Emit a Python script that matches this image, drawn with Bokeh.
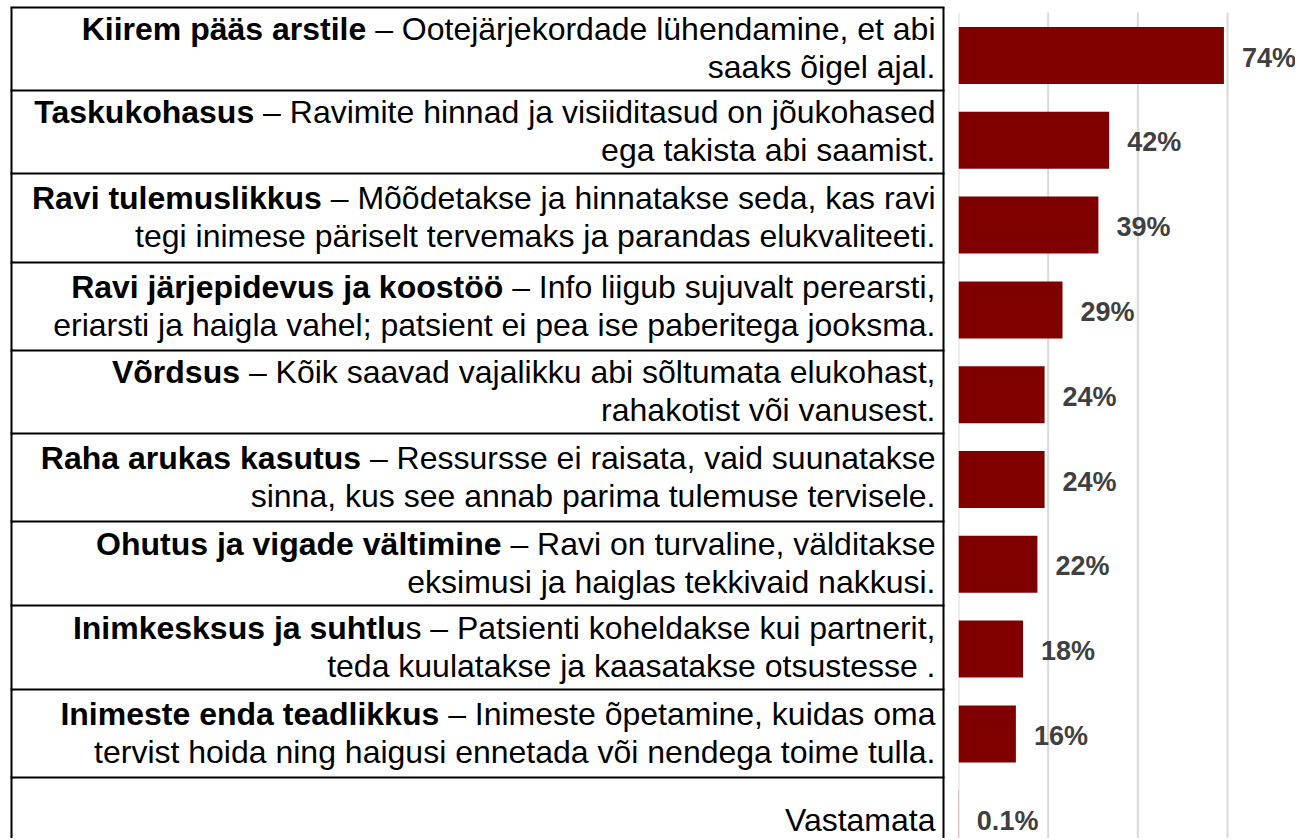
from bokeh.plotting import figure
from bokeh.layouts import row
from bokeh.models import Range1d, ColumnDataSource
from bokeh.embed import file_html
from bokeh.resources import INLINE
from bokeh.core.properties import value

# ---------------- data ----------------
titles = [
    "Kiirem pääs arstile",
    "Taskukohasus",
    "Ravi tulemuslikkus",
    "Ravi järjepidevus ja koostöö",
    "Võrdsus",
    "Raha arukas kasutus",
    "Ohutus ja vigade vältimine",
    "Inimkesksus ja suhtlu",
    "Inimeste enda teadlikkus",
    "",
]
first_lines = [
    " – Ootejärjekordade lühendamine, et abi",
    " – Ravimite hinnad ja visiiditasud on jõukohased",
    " – Mõõdetakse ja hinnatakse seda, kas ravi",
    " – Info liigub sujuvalt perearsti,",
    " – Kõik saavad vajalikku abi sõltumata elukohast,",
    " – Ressursse ei raisata, vaid suunatakse",
    " – Ravi on turvaline, välditakse",
    "s – Patsienti koheldakse kui partnerit,",
    " – Inimeste õpetamine, kuidas oma",
    "Vastamata",
]
second_lines = [
    "saaks õigel ajal.",
    "ega takista abi saamist.",
    "tegi inimese päriselt tervemaks ja parandas elukvaliteeti.",
    "eriarsti ja haigla vahel; patsient ei pea ise paberitega jooksma.",
    "rahakotist või vanusest.",
    "sinna, kus see annab parima tulemuse tervisele.",
    "eksimusi ja haiglas tekkivaid nakkusi.",
    "teda kuulatakse ja kaasatakse otsustesse .",
    "tervist hoida ning haigusi ennetada või nendega toime tulla.",
    "",
]
values = [74, 42, 39, 29, 24, 24, 22, 18, 16, 0.1]
labels = ["74%", "42%", "39%", "29%", "24%", "24%", "22%", "18%", "16%", "0.1%"]
grid_ticks = [0, 25, 50, 75]

# ---------------- layout constants ----------------
FONT = "Liberation Sans"
FS = 32
H = 838
W_L = 954
W_R = 341
row_tops = [7, 90, 173, 262, 350, 433, 521, 605, 689, 777, 863]
X_RIGHT = 935
PX_PER_PCT = 3.587
CAT_STEP = 84.8
FIRST_CENTER = 55
GRID_TOP = 12

# text width measurement
def _make_tw():
    try:
        from PIL import ImageFont
        for path in ["LiberationSans-Regular.ttf",
                     "/usr/share/fonts/truetype/liberation/LiberationSans-Regular.ttf",
                     "/usr/share/fonts/liberation-sans/LiberationSans-Regular.ttf",
                     "/usr/share/fonts/liberation/LiberationSans-Regular.ttf"]:
            try:
                f = ImageFont.truetype(path, FS)
                return lambda s: f.getlength(s)
            except Exception:
                continue
    except Exception:
        pass
    return lambda s: 0.5 * FS * len(s)

tw = _make_tw()

# ---------------- left: table ----------------
left = figure(width=W_L, height=H, x_range=Range1d(0, W_L), y_range=Range1d(H, 0),
              output_backend="svg", toolbar_location=None,
              min_border_left=0, min_border_right=0, min_border_top=0, min_border_bottom=0)
left.axis.visible = False
left.grid.visible = False
left.outline_line_color = None
left.background_fill_color = "white"
left.border_fill_color = "white"

hy = row_tops[:-1]
left.segment(x0=[10] * len(hy), x1=[944] * len(hy), y0=hy, y1=hy, line_color="black", line_width=2)
left.segment(x0=[11, 943], x1=[11, 943], y0=[7, 7], y1=[H, H], line_color="black", line_width=2)

n_rows = len(titles)
bx, by, bt = [], [], []
nx, ny, nt = [], [], []
for i in range(n_rows):
    mid = (row_tops[i] + row_tops[i + 1]) / 2
    if second_lines[i]:
        y1, y2 = mid - 20, mid + 18
    else:
        y1, y2 = mid - 1, None
    t = first_lines[i]
    gap = tw(" ") if t.startswith(" ") else 0
    t = t.lstrip()
    nx.append(X_RIGHT); ny.append(y1); nt.append(t)
    if titles[i]:
        bx.append(X_RIGHT - tw(t) - gap); by.append(y1); bt.append(titles[i])
    if y2 is not None:
        nx.append(X_RIGHT); ny.append(y2); nt.append(second_lines[i])

left.text(x=nx, y=ny, text=nt, text_align="right", text_baseline="middle",
          text_font=value(FONT), text_font_size=f"{FS}px", text_color="black")
left.text(x=bx, y=by, text=bt, text_align="right", text_baseline="middle",
          text_font=value(FONT), text_font_size=f"{FS}px", text_font_style="bold",
          text_color="black")

# ---------------- right: bars ----------------
frame_w = W_R - 4
y_top = -FIRST_CENTER / CAT_STEP
y_bottom = y_top + H / CAT_STEP
right = figure(width=W_R, height=H,
               x_range=Range1d(0, frame_w / PX_PER_PCT),
               y_range=Range1d(y_bottom, y_top),
               output_backend="svg", toolbar_location=None,
               min_border_left=4, min_border_right=0, min_border_top=0, min_border_bottom=0)
right.axis.visible = False
right.grid.visible = False
right.outline_line_color = None
right.background_fill_color = "white"
right.border_fill_color = "white"

g_top = y_top + GRID_TOP / CAT_STEP
right.segment(x0=grid_ticks, x1=grid_ticks, y0=[g_top] * len(grid_ticks),
              y1=[y_bottom] * len(grid_ticks), line_color="#d9d9d9", line_width=2)

idx = list(range(len(values)))
src = ColumnDataSource(dict(y=idx, v=values, lab=labels, cat=titles[:-1] + ["Vastamata"]))
right.hbar(y="y", left=0, right="v", height=0.672, source=src,
           fill_color="#800000", line_color=None)
right.text(x="v", y="y", text="lab", source=src, x_offset=18, y_offset=2,
           text_align="left", text_baseline="middle",
           text_font=value(FONT), text_font_size="27px", text_font_style="bold",
           text_color="#404040")

layout = row(left, right)
open("out.html", "w").write(file_html(layout, INLINE))
